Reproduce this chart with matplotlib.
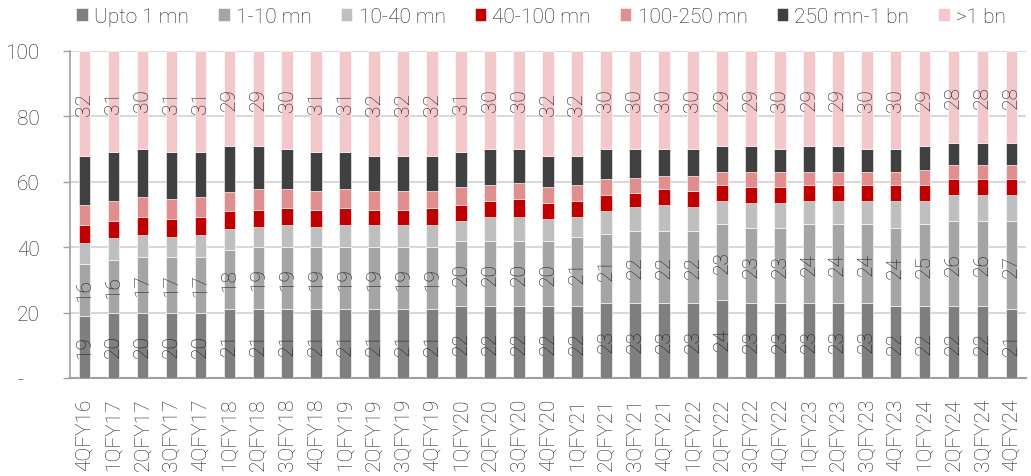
import numpy as np
import matplotlib
matplotlib.use("Agg")
import matplotlib.pyplot as plt

plt.rcParams['font.family'] = ['Roboto', 'DejaVu Sans']
plt.rcParams['font.weight'] = 'light'

quarters = ['4QFY16',
            '1QFY17', '2QFY17', '3QFY17', '4QFY17',
            '1QFY18', '2QFY18', '3QFY18', '4QFY18',
            '1QFY19', '2QFY19', '3QFY19', '4QFY19',
            '1QFY20', '2QFY20', '3QFY20', '4QFY20',
            '1QFY21', '2QFY21', '3QFY21', '4QFY21',
            '1QFY22', '2QFY22', '3QFY22', '4QFY22',
            '1QFY23', '2QFY23', '3QFY23', '4QFY23',
            '1QFY24', '2QFY24', '3QFY24', '4QFY24']

# share of exposure by ticket size (%)
upto_1mn = [19, 20, 20, 20, 20, 21, 21, 21, 21, 21, 21, 21, 21, 22, 22, 22, 22,
            22, 23, 23, 23, 23, 24, 23, 23, 23, 23, 23, 22, 22, 22, 22, 21]
mn_1_10 = [16, 16, 17, 17, 17, 18, 19, 19, 19, 19, 19, 19, 19, 20, 20, 20, 20,
           21, 21, 22, 22, 22, 23, 23, 23, 24, 24, 24, 24, 25, 26, 26, 27]
mn_10_40 = [6.4, 6.7, 6.8, 6.2, 6.8, 6.6, 6.2, 6.8, 6.2, 6.8, 6.8, 6.8, 6.8,
            6.1, 7.3, 7.2, 6.7, 6.3, 7.0, 7.2, 7.9, 7.2, 7.1, 7.5, 7.5, 7.1,
            7.1, 7.1, 8.1, 7.1, 7.9, 7.9, 7.9]
mn_40_100 = [5.3, 5.3, 5.4, 5.4, 5.4, 5.4, 5.3, 5.3, 5.3, 5.3, 4.7, 4.7, 5.3,
             4.8, 4.8, 5.5, 4.8, 4.8, 4.9, 4.3, 4.9, 4.9, 4.9, 4.9, 4.9, 4.9,
             4.9, 4.9, 4.9, 4.9, 4.8, 4.8, 4.8]
mn_100_250 = [6.3, 6.1, 6.1, 6.1, 6.1, 6.0, 6.3, 5.7, 5.6, 5.7, 5.6, 5.6, 5.0,
              5.5, 4.9, 5.0, 4.8, 4.8, 4.8, 4.8, 4.1, 4.8, 4.1, 4.7, 4.7, 4.1,
              4.1, 4.1, 4.1, 4.7, 4.3, 4.3, 4.3]
above_1bn = [32, 31, 30, 31, 31, 29, 29, 30, 31, 31, 32, 32, 32, 31, 30, 30, 32,
             32, 30, 30, 30, 30, 29, 29, 30, 29, 29, 30, 30, 29, 28, 28, 28]
# 250 mn-1 bn is whatever is left to reach 100
mn_250_1bn = [round(100 - a - b - c - d - e - f, 1) for a, b, c, d, e, f in
              zip(upto_1mn, mn_1_10, mn_10_40, mn_40_100, mn_100_250, above_1bn)]

series = [('Upto 1 mn', upto_1mn, '#7f7f7f'),
          ('1-10 mn', mn_1_10, '#a5a5a5'),
          ('10-40 mn', mn_10_40, '#bfbfbf'),
          ('40-100 mn', mn_40_100, '#c00000'),
          ('100-250 mn', mn_100_250, '#e08e8e'),
          ('250 mn-1 bn', mn_250_1bn, '#404040'),
          ('>1 bn', above_1bn, '#f2c8ca')]
labelled = {'Upto 1 mn', '1-10 mn', '>1 bn'}

fig = plt.figure(figsize=(10.31, 4.77), dpi=100)
ax = fig.add_axes([0.0679, 0.2055, 0.9273, 0.6855])

x = np.arange(len(quarters))
bottom = np.zeros(len(quarters))
for name, vals, col in series:
    vals = np.array(vals, dtype=float)
    bars = ax.bar(x, vals, 0.4, bottom=bottom, color=col, label=name,
                  edgecolor='white', linewidth=0.4, zorder=3)
    if name in labelled:
        ax.bar_label(bars, labels=[f'{v:.0f}' for v in vals], label_type='center',
                     rotation=90, fontsize=15, color='#222222')
    bottom += vals

ax.set_xlim(-0.5, len(quarters) - 0.5)
ax.set_ylim(0, 100)
ax.set_yticks([0, 20, 40, 60, 80, 100])
ax.set_yticklabels(['-   ', '20', '40', '60', '80', '100'])
ax.set_xticks(x)
ax.set_xticklabels(quarters, rotation=90)
ax.tick_params(axis='x', length=0, pad=14, labelsize=15, colors='#222222')
ax.tick_params(axis='y', length=5, width=1, color='#a0a0a0', pad=17,
               labelsize=15, labelcolor='#222222', direction='out')
ax.grid(axis='y', color='#d9d9d9', linewidth=1.5, zorder=0)
for s in ['top', 'right']:
    ax.spines[s].set_visible(False)
ax.spines['left'].set_color('#a0a0a0')
ax.spines['bottom'].set_color('#a0a0a0')
ax.spines['left'].set_linewidth(1.2)
ax.spines['bottom'].set_linewidth(1.5)

fig.legend(loc='center', bbox_to_anchor=(0.525, 0.964), ncol=7, frameon=False,
           fontsize=15, handlelength=0.55, handleheight=0.55, handletextpad=0.3,
           columnspacing=1.4, labelcolor='#222222')

fig.savefig('out.png', dpi=100)
